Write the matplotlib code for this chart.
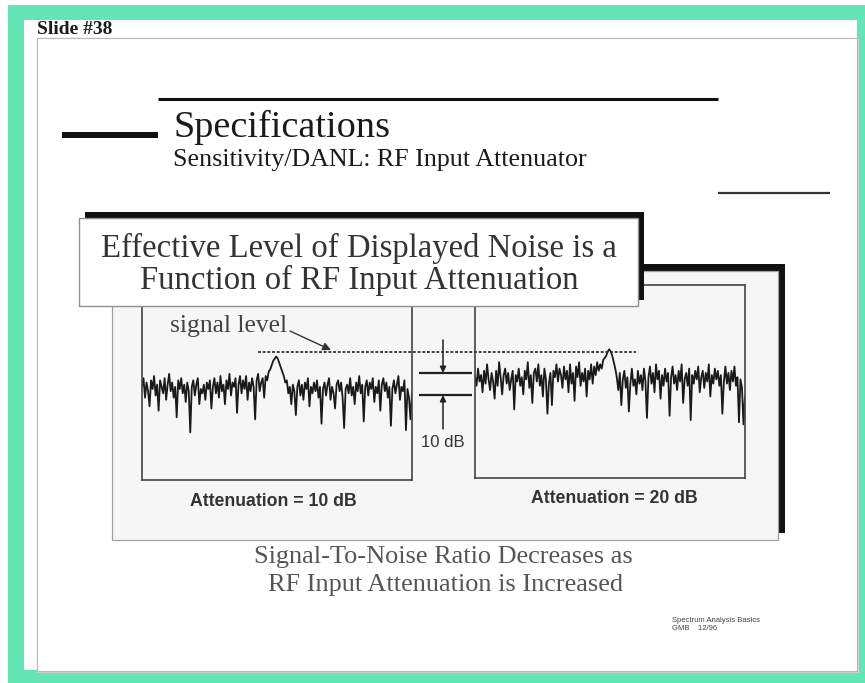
import numpy as np
import matplotlib
matplotlib.use("Agg")
import matplotlib.pyplot as plt
from matplotlib.patches import Rectangle
from matplotlib.transforms import blended_transform_factory

W, H = 865, 683

# swept traces (dB, top of screen = 0 dB)
sweep_10db = [-47, -43, -52, -45, -49, -56, -44, -48, -42, -51,
              -46, -58, -44, -47, -50, -43, -53, -46, -41, -49,
              -45, -52, -47, -61, -44, -48, -43, -50, -46, -54,
              -45, -49, -68, -47, -44, -51, -46, -43, -55, -48,
              -50, -46, -53, -45, -48, -44, -57, -47, -43, -50,
              -45, -52, -42, -49, -46, -55, -44, -48, -41, -51,
              -45, -47, -43, -59, -46, -42, -50, -44, -48, -42,
              -53, -45, -49, -43, -47, -62, -44, -41, -49, -45,
              -43, -52, -42, -44, -40, -39, -37, -35, -34, -33,
              -34, -36, -38, -40, -42, -45, -44, -50, -47, -55,
              -46, -49, -60, -47, -44, -51, -46, -53, -45, -48,
              -43, -56, -47, -50, -45, -49, -44, -52, -47, -64,
              -48, -45, -51, -46, -43, -53, -47, -50, -57, -46,
              -44, -49, -45, -52, -66, -48, -46, -50, -43, -51,
              -47, -55, -45, -49, -42, -50, -46, -63, -47, -44,
              -51, -45, -48, -43, -54, -47, -50, -44, -58, -46,
              -43, -49, -45, -52, -47, -65, -48, -44, -50, -46,
              -42, -53, -47, -49, -44, -67, -48, -52, -62, -50]
sweep_20db = [-43, -47, -39, -45, -42, -50, -40, -46, -37, -44,
              -49, -41, -45, -53, -40, -47, -36, -43, -51, -42,
              -39, -46, -41, -49, -44, -40, -58, -42, -45, -39,
              -47, -43, -51, -40, -44, -36, -48, -42, -55, -41,
              -39, -45, -37, -47, -42, -52, -39, -44, -60, -46,
              -41, -56, -40, -43, -37, -45, -39, -42, -48, -38,
              -44, -40, -50, -37, -46, -41, -54, -38, -43, -36,
              -47, -41, -45, -39, -52, -40, -44, -37, -46, -38,
              -42, -36, -40, -37, -39, -35, -34, -33, -31, -30,
              -31, -33, -36, -39, -43, -49, -41, -56, -44, -40,
              -48, -43, -59, -46, -39, -47, -44, -51, -40, -46,
              -42, -49, -39, -45, -62, -43, -38, -46, -41, -50,
              -37, -44, -40, -53, -42, -47, -39, -45, -41, -61,
              -43, -38, -46, -42, -49, -40, -45, -37, -55, -44,
              -41, -47, -39, -63, -42, -46, -40, -44, -38, -50,
              -43, -40, -48, -41, -45, -37, -52, -42, -46, -39,
              -44, -40, -47, -42, -60, -45, -38, -46, -41, -49,
              -40, -45, -38, -47, -43, -64, -44, -48, -65, -52]
signal_level_db = -31
noise_marks_db = [-40.6, -50.8]
screen_labels = ["Attenuation = 10 dB", "Attenuation = 20 dB"]

GREEN = "#64E5B5"
SERIF = "Liberation Serif"
SANS = "Liberation Sans"

fig = plt.figure(figsize=(W / 100, H / 100), dpi=100)
fig.patch.set_facecolor("white")


def px_axes(x0, y0, x1, y1, z):
    a = fig.add_axes([x0 / W, 1 - y1 / H, (x1 - x0) / W, (y1 - y0) / H])
    a.set_zorder(z)
    return a


# ── background: frame, slide, headings, grey panel ──
bg = px_axes(0, 0, W, H, 0)
bg.set_xlim(0, W)
bg.set_ylim(H, 0)
bg.axis("off")

bg.add_patch(Rectangle((8, 5), W, H, color=GREEN, lw=0))
bg.add_patch(Rectangle((24, 20), 833, 650, color="white", lw=0))
bg.add_patch(Rectangle((38, 39), 820, 633, fc="none", ec="#D0D0D0", lw=1.6))
bg.add_patch(Rectangle((37, 38), 820, 633, fc="white", ec="#B8B8B8", lw=0.8))

bg.text(37, 34, "Slide #38", family=SERIF, fontweight="bold", fontsize=14,
        color="#1a1a1a", va="baseline")

bg.plot([158, 718], [99, 99], color="#111", lw=2.2, solid_capstyle="butt")
bg.plot([62, 158], [135, 135], color="#111", lw=4.3, solid_capstyle="butt")
bg.plot([718, 830], [193, 193], color="#333", lw=1.6, solid_capstyle="butt")
bg.text(173, 137, "Specifications", family=SERIF, fontsize=27.5, color="#1a1a1a",
        va="baseline")
bg.text(173, 166, "Sensitivity/DANL: RF Input Attenuator", family=SERIF,
        fontsize=18.7, color="#1a1a1a", va="baseline")

bg.add_patch(Rectangle((119, 264), 666, 269, color="#111", lw=0))
bg.add_patch(Rectangle((112, 271), 666, 269, fc="#F6F6F6", ec="#A0A0A0", lw=0.9))

bg.text(273, 506, screen_labels[0], family=SANS, fontweight="bold", fontsize=12.7,
        color="#333", ha="center", va="baseline")
bg.text(614, 503, screen_labels[1], family=SANS, fontweight="bold", fontsize=12.7,
        color="#333", ha="center", va="baseline")

bg.text(443, 563, "Signal-To-Noise Ratio Decreases as", family=SERIF,
        fontsize=18.9, color="#555", ha="center", va="baseline")
bg.text(446, 591, "RF Input Attenuation is Increased", family=SERIF,
        fontsize=18.9, color="#555", ha="center", va="baseline")

bg.text(672, 622, "Spectrum Analysis Basics", family=SANS, fontsize=5.5,
        color="#444", va="baseline")
bg.text(672, 630, "GMB    12/96", family=SANS, fontsize=5.5,
        color="#444", va="baseline")

# ── the two analyser screens ──
screens = []
for box, trace in [((142, 285, 412, 480), sweep_10db),
                   ((475, 285, 745, 478), sweep_20db)]:
    a = px_axes(*box, 1)
    a.set_facecolor("none")
    a.plot(np.arange(len(trace)), trace, color="#1a1a1a", lw=1.3)
    a.set_xlim(0, len(trace) - 1)
    a.set_ylim(-90, 0)
    a.set_xticks([])
    a.set_yticks([])
    for s in a.spines.values():
        s.set_color("#444")
        s.set_linewidth(1.2)
    screens.append(a)
ax_l, ax_r = screens

# ── overlay: title box, signal level, 10 dB marker ──
fg = px_axes(0, 0, W, H, 2)
fg.set_xlim(0, W)
fg.set_ylim(H, 0)
fg.axis("off")

fg.add_patch(Rectangle((85, 212), 559, 88, color="#111", lw=0))
fg.add_patch(Rectangle((79, 218), 559, 88, fc="white", ec="#909090", lw=1.0))
fg.text(359, 257, "Effective Level of Displayed Noise is a", family=SERIF,
        fontsize=23.6, color="#333", ha="center", va="baseline")
fg.text(359, 289, "Function of RF Input Attenuation", family=SERIF,
        fontsize=23.6, color="#333", ha="center", va="baseline")

tr = blended_transform_factory(fg.transData, ax_l.transData)
fg.plot([258, 636], [signal_level_db, signal_level_db], transform=tr,
        color="#333", lw=1.3, linestyle=(0, (1.6, 1.0)))
fg.text(170, 332, "signal level", family=SERIF, fontsize=18.4, color="#444",
        va="baseline")
fg.annotate("", xy=(331, 350), xytext=(290, 331),
            arrowprops=dict(arrowstyle="-|>", color="#333", lw=1.0,
                            mutation_scale=12, shrinkA=0, shrinkB=0))

for v in noise_marks_db:
    fg.plot([419, 472], [v, v], transform=tr, color="#222", lw=1.6,
            solid_capstyle="butt")
top, bot = noise_marks_db
fg.annotate("", xy=(443, top), xycoords=tr, xytext=(443, 340),
            textcoords="data",
            arrowprops=dict(arrowstyle="-|>", color="#222", lw=1.1,
                            mutation_scale=9, shrinkA=0, shrinkB=0))
fg.annotate("", xy=(443, bot), xycoords=tr, xytext=(443, 429),
            textcoords="data",
            arrowprops=dict(arrowstyle="-|>", color="#222", lw=1.1,
                            mutation_scale=9, shrinkA=0, shrinkB=0))
fg.text(443, 447, "10 dB", family=SANS, fontsize=12, color="#333",
        ha="center", va="baseline")

fig.savefig("out.png", dpi=100, facecolor="white")
